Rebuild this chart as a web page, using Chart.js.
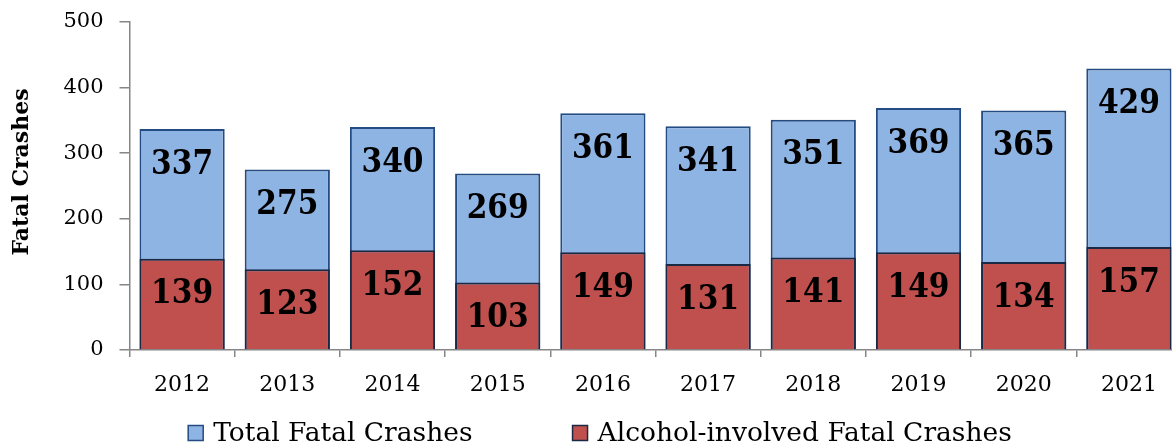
<!DOCTYPE html>
<html>
<head>
<meta charset="utf-8">
<script src="https://cdn.jsdelivr.net/npm/chart.js@4/dist/chart.umd.min.js"></script>
<style>
  html, body { margin: 0; padding: 0; background: #fff; overflow: hidden; }
  #wrap { width: 1184px; height: 448px; }
</style>
</head>
<body>
<div id="wrap"><canvas id="crashes" width="1184" height="448"></canvas></div>
<script>
// data
const years = ['2012', '2013', '2014', '2015', '2016', '2017', '2018', '2019', '2020', '2021'];
const totalCrashes = [337, 275, 340, 269, 361, 341, 351, 369, 365, 429];
const alcoholCrashes = [139, 123, 152, 103, 149, 131, 141, 149, 134, 157];
const seriesNames = ['Total Fatal Crashes', 'Alcohol-involved Fatal Crashes'];
const yMax = 500;
const yStep = 100;

const serif = "'DejaVu Serif', serif";
const axisGrey = '#868686';

// numbers inside the bars, near the top of each bar
const barLabels = {
    id: 'barLabels',
    afterDatasetsDraw(chart) {
        const ctx = chart.ctx;
        ctx.save();
        ctx.font = "bold 33px 'DejaVu Serif Condensed', 'DejaVu Serif', serif";
        ctx.fillStyle = '#000';
        ctx.textAlign = 'center';
        ctx.textBaseline = 'middle';
        chart.data.datasets.forEach((ds, i) => {
            chart.getDatasetMeta(i).data.forEach((bar, j) => {
                ctx.fillText(String(ds.data[j]), bar.x, bar.y + 36);
            });
        });
        ctx.restore();
    }
};

// y title and legend in the bottom band
const extras = {
    id: 'extras',
    afterDraw(chart) {
        const ctx = chart.ctx;
        ctx.save();
        // axis title
        ctx.translate(22, 172);
        ctx.rotate(-Math.PI / 2);
        ctx.font = 'bold 22px ' + serif;
        ctx.fillStyle = '#000';
        ctx.textAlign = 'center';
        ctx.textBaseline = 'middle';
        ctx.fillText('Fatal Crashes', 0, 0);
        ctx.restore();

        // legend
        ctx.save();
        ctx.font = '26.5px ' + serif;
        ctx.textBaseline = 'middle';
        const box = 15, boxGap = 10, itemGap = 100;
        const items = chart.data.datasets.slice().sort((a, b) => a.legendIndex - b.legendIndex);
        const widths = items.map(d => box + boxGap + ctx.measureText(d.label).width);
        const total = widths.reduce((a, b) => a + b, 0) + itemGap * (items.length - 1);
        let x = 600 - total / 2;
        const y = 433;
        items.forEach((d, k) => {
            ctx.fillStyle = d.backgroundColor;
            ctx.fillRect(x, y - box / 2, box, box);
            ctx.strokeStyle = d.borderColor;
            ctx.lineWidth = 1.5;
            ctx.strokeRect(x, y - box / 2, box, box);
            ctx.fillStyle = '#000';
            ctx.fillText(d.label, x + box + boxGap, y + 1);
            x += widths[k] + itemGap;
        });
        ctx.restore();
    }
};

const ctx = document.getElementById('crashes').getContext('2d');
const chart = new Chart(ctx, {
    type: 'bar',
    data: {
        labels: years,
        datasets: [{
            label: seriesNames[0],
            data: totalCrashes,
            backgroundColor: '#8EB4E3',
            borderColor: '#254C82',
            borderWidth: 2,
            order: 2,
            legendIndex: 0
        }, {
            label: seriesNames[1],
            data: alcoholCrashes,
            backgroundColor: '#C0504D',
            borderColor: '#1B2A44',
            borderWidth: 2,
            order: 1,
            legendIndex: 1
        }]
    },
    options: {
        responsive: false,
        animation: false,
        layout: { padding: { left: 0, top: 22, right: 2.5, bottom: 0 } },
        datasets: { bar: { barPercentage: 0.81, categoryPercentage: 1 } },
        plugins: {
            legend: { display: false },
            tooltip: { enabled: false }
        },
        scales: {
            x: {
                stacked: true,
                afterFit: s => { s.height = 98; s.paddingLeft = 0; s.paddingRight = 0; },
                border: { display: true, color: axisGrey, width: 1.5 },
                grid: { offset: true, drawOnChartArea: false, drawTicks: true, tickLength: 7, color: axisGrey, lineWidth: 1.5 },
                ticks: { font: { family: serif, size: 22 }, color: '#000', padding: 15 }
            },
            y: {
                stacked: false,
                min: 0,
                max: yMax,
                afterFit: s => { s.width = 129.5; s.paddingTop = 0; s.paddingBottom = 0; },
                border: { display: true, color: axisGrey, width: 1.5 },
                grid: { drawOnChartArea: false, drawTicks: true, tickLength: 10, color: axisGrey, lineWidth: 1.5 },
                ticks: { stepSize: yStep, font: { family: serif, size: 21 }, color: '#000', padding: 16 }
            }
        }
    },
    plugins: [barLabels, extras]
});
</script>
</body>
</html>
